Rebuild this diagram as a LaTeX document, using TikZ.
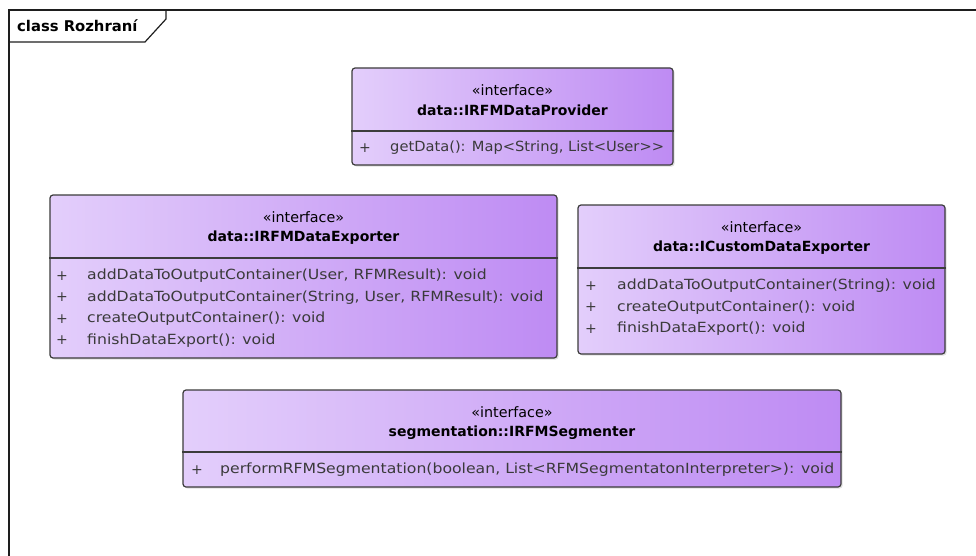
\documentclass[tikz,border=0pt]{standalone}
\usepackage{fontspec}
\setmainfont{DejaVu Sans}
\newfontfamily\opfont{DejaVu Sans}[FakeStretch=1.12]
\usetikzlibrary{shadows}
\definecolor{ifaceL}{HTML}{E3CEFB}
\definecolor{ifaceR}{HTML}{BE8BF3}
\definecolor{edgegray}{HTML}{3C3C3C}
\definecolor{optext}{HTML}{3A3A3A}
\definecolor{framegray}{HTML}{1E1E1E}

\begin{document}
\begin{tikzpicture}[x=1pt,y=-1pt,
  classbox/.style={draw=edgegray, line width=1.2pt, rounded corners=3pt,
    left color=ifaceL, right color=ifaceR, inner sep=0pt,
    drop shadow={opacity=0.25, shadow xshift=1.6pt, shadow yshift=-1.6pt}},
  sepline/.style={draw=edgegray, line width=1.2pt},
  stereo/.style={inner sep=0pt, font=\fontsize{14.3}{16}\selectfont},
  cname/.style={inner sep=0pt, font=\fontsize{14}{16}\selectfont\bfseries},
  vis/.style={inner sep=0pt, text=optext, font=\fontsize{14}{16}\selectfont},
  op/.style={inner sep=0pt, anchor=west, text=optext, font=\opfont\fontsize{14}{16}\selectfont},
  frameline/.style={draw=framegray, line width=1.6pt}
]
\useasboundingbox (0,0) rectangle (976,556);

% package frame with its name tab
\coordinate (fbl) at (9,556);
\coordinate (ftl) at (9,10);
\coordinate (ftr) at (976,10);
\coordinate (tabr) at (166,10);
\coordinate (tabk) at (166,19);
\coordinate (tabd) at (145,42);
\coordinate (tabl) at (9,42);
\draw[frameline] (fbl) -- (ftl) -- (ftr);
\draw[frameline, line width=1.2pt] (tabl) -- (tabd) -- (tabk) -- (tabr);
\node[inner sep=0pt, anchor=west, font=\fontsize{14.8}{16}\selectfont\bfseries] (lbl) at (17,26) {class Rozhraní};

% data::IRFMDataProvider
\node[classbox, minimum width=321pt, minimum height=97pt] (prov) at (512.5,116.5) {};
\coordinate (provsep) at (0,131);
\draw[sepline] (prov.west |- provsep) -- (prov.east |- provsep);
\node[stereo] (provst) at (512.5,90) {«interface»};
\node[cname] (provnm) at (512.5,110) {data::IRFMDataProvider};
\node[vis] (provv1) at (365,148) {+};
\node[op] (provo1) at (390,148) {\scalebox{0.935}[1]{getData(): Map<String, List<User>{}>}};

% data::IRFMDataExporter
\node[classbox, minimum width=507pt, minimum height=163pt] (dexp) at (303.5,276.5) {};
\coordinate (dexpsep) at (0,258);
\draw[sepline] (dexp.west |- dexpsep) -- (dexp.east |- dexpsep);
\node[stereo] (dexpst) at (303.5,217) {«interface»};
\node[cname] (dexpnm) at (303.5,238) {data::IRFMDataExporter};
\node[vis] (dexpv1) at (62,276) {+};
\node[op] (dexpo1) at (87,276) {addDataToOutputContainer(User, RFMResult): void};
\node[vis] (dexpv2) at (62,297.5) {+};
\node[op] (dexpo2) at (87,297.5) {addDataToOutputContainer(String, User, RFMResult): void};
\node[vis] (dexpv3) at (62,319) {+};
\node[op] (dexpo3) at (87,319) {createOutputContainer(): void};
\node[vis] (dexpv4) at (62,340.5) {+};
\node[op] (dexpo4) at (87,340.5) {finishDataExport(): void};

% data::ICustomDataExporter
\node[classbox, minimum width=367pt, minimum height=149pt] (cexp) at (761.5,279.5) {};
\coordinate (cexpsep) at (0,268);
\draw[sepline] (cexp.west |- cexpsep) -- (cexp.east |- cexpsep);
\node[stereo] (cexpst) at (761.5,227) {«interface»};
\node[cname] (cexpnm) at (761.5,248) {data::ICustomDataExporter};
\node[vis] (cexpv1) at (591,286) {+};
\node[op] (cexpo1) at (617,286) {addDataToOutputContainer(String): void};
\node[vis] (cexpv2) at (591,307.5) {+};
\node[op] (cexpo2) at (617,307.5) {createOutputContainer(): void};
\node[vis] (cexpv3) at (591,329) {+};
\node[op] (cexpo3) at (617,329) {finishDataExport(): void};

% segmentation::IRFMSegmenter
\node[classbox, minimum width=658pt, minimum height=97pt] (segm) at (512,438.5) {};
\coordinate (segmsep) at (0,452);
\draw[sepline] (segm.west |- segmsep) -- (segm.east |- segmsep);
\node[stereo] (segmst) at (512,412) {«interface»};
\node[cname] (segmnm) at (512,433) {segmentation::IRFMSegmenter};
\node[vis] (segmv1) at (197,470) {+};
\node[op] (segmo1) at (220,470) {performRFMSegmentation(boolean, List<RFMSegmentatonInterpreter>): void};
\end{tikzpicture}
\end{document}
